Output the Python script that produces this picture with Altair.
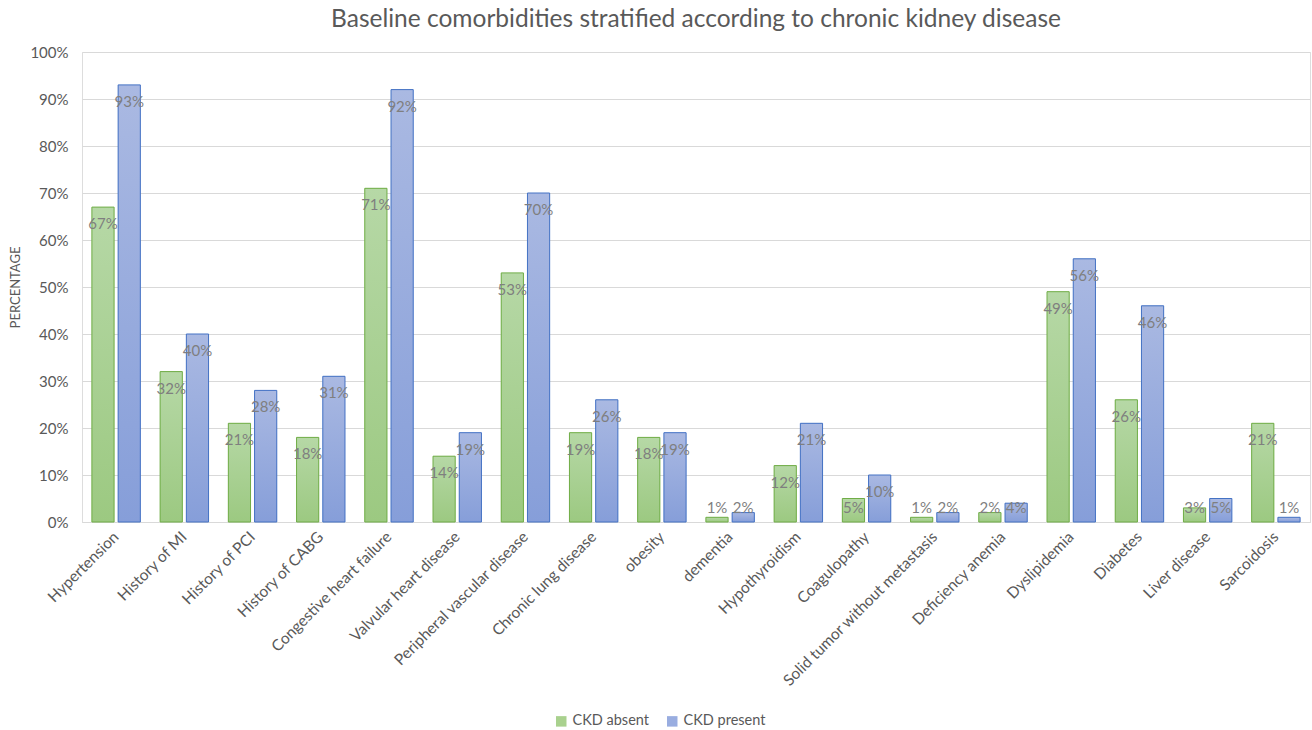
import altair as alt
import pandas as pd

categories = ["Hypertension", "History of MI", "History of PCI", "History of CABG",
              "Congestive heart failure", "Valvular heart disease", "Peripheral vascular disease",
              "Chronic lung disease", "obesity", "dementia", "Hypothyroidism", "Coagulopathy",
              "Solid tumor without metastasis", "Deficiency anemia", "Dyslipidemia", "Diabetes",
              "Liver disease", "Sarcoidosis"]
ckd_absent = [67, 32, 21, 18, 71, 14, 53, 19, 18, 1, 12, 5, 1, 2, 49, 26, 3, 21]
ckd_present = [93, 40, 28, 31, 92, 19, 70, 26, 19, 2, 21, 10, 2, 4, 56, 46, 5, 1]
series = ["CKD absent", "CKD present"]

rows = []
for c, a, p in zip(categories, ckd_absent, ckd_present):
    rows.append({"cat": c, "series": series[0], "v": a})
    rows.append({"cat": c, "series": series[1], "v": p})
df = pd.DataFrame(rows)

FONT = "Lato"
GREY = "#595959"

x = alt.X("cat:N", sort=categories, title=None,
          scale=alt.Scale(paddingInner=0.29, paddingOuter=0.145),
          axis=alt.Axis(labelAngle=-45, labelAlign="right", labelBaseline="middle",
                        labelPadding=12, ticks=False, domainColor="#d9d9d9",
                        labelFontSize=15.5, labelColor=GREY, labelFont=FONT, labelLimit=400))
xo = alt.XOffset("series:N", sort=series,
                 scale=alt.Scale(domain=series, paddingInner=0.154, paddingOuter=0))
y = alt.Y("v:Q", title="PERCENTAGE",
          scale=alt.Scale(domain=[0, 100], nice=False),
          axis=alt.Axis(values=list(range(0, 101, 10)), labelExpr="datum.value + '%'",
                        domain=False, ticks=False, gridColor="#d9d9d9",
                        labelFontSize=15, labelColor=GREY, labelFont=FONT, labelPadding=14,
                        titleFontSize=13, titleColor=GREY, titleFont=FONT,
                        titleFontWeight="normal", titlePadding=7))

base = alt.Chart(df)

legend_bars = base.mark_bar().encode(
    x=x, xOffset=xo, y=y,
    color=alt.Color("series:N", sort=series,
                    scale=alt.Scale(domain=series, range=["#a9d18e", "#99ade0"]),
                    legend=alt.Legend(title=None, orient="none", direction="horizontal",
                                      legendX=472, legendY=662, symbolType="square",
                                      symbolSize=110, symbolStrokeWidth=1,
                                      labelFontSize=14.5, labelColor=GREY, labelFont=FONT,
                                      columnPadding=16)),
)

green_grad = alt.Gradient(gradient="linear", x1=0, y1=0, x2=0, y2=1,
                          stops=[alt.GradientStop(color="#b6d8a6", offset=0),
                                 alt.GradientStop(color="#9cc981", offset=1)])
blue_grad = alt.Gradient(gradient="linear", x1=0, y1=0, x2=0, y2=1,
                         stops=[alt.GradientStop(color="#aab9e2", offset=0),
                                alt.GradientStop(color="#869ed9", offset=1)])

g_bars = base.transform_filter(alt.datum.series == series[0]).mark_bar(
    fill=green_grad, stroke="#70ad47", strokeWidth=1).encode(x=x, xOffset=xo, y=y)
b_bars = base.transform_filter(alt.datum.series == series[1]).mark_bar(
    fill=blue_grad, stroke="#4472c4", strokeWidth=1).encode(x=x, xOffset=xo, y=y)

labels = base.transform_calculate(
    lp="max(datum.v - 3.6, 3)", lab="datum.v + '%'"
).mark_text(font=FONT, fontSize=15, color="#7f7f7f", baseline="middle", align="center").encode(
    x=x, xOffset=xo,
    y=alt.Y("lp:Q", scale=alt.Scale(domain=[0, 100], nice=False)),
    text="lab:N",
)

chart = alt.layer(legend_bars, g_bars, b_bars, labels).properties(
    width=1228, height=470,
    autosize=alt.AutoSizeParams(type="none"),
    padding={"left": 82, "top": 52, "right": 2, "bottom": 208},
    title=alt.TitleParams("Baseline comorbidities stratified according to chronic kidney disease",
                          font=FONT, fontSize=24.5, color=GREY, fontWeight="normal",
                          anchor="middle", offset=13),
).configure_view(stroke=None).configure(background="white")

chart.save("out.html", embed_options={"renderer": "svg", "actions": False})
